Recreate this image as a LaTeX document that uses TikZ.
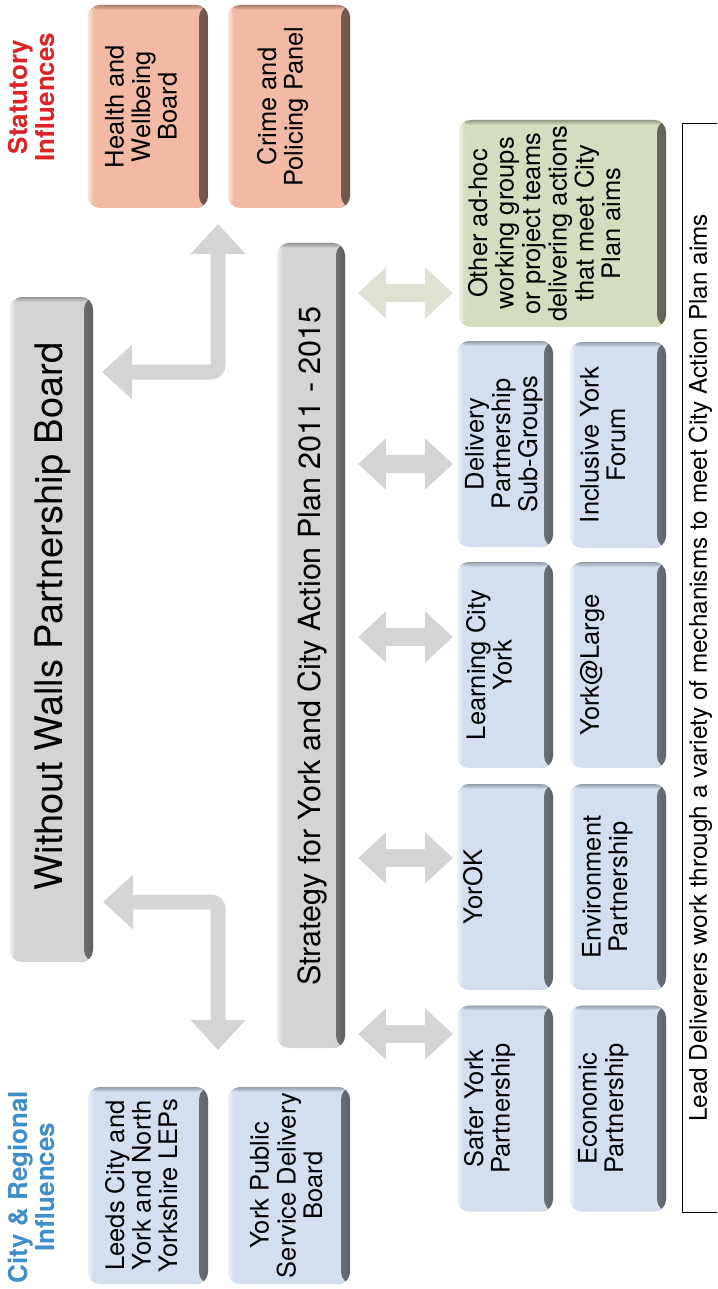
\documentclass[tikz,border=0pt]{standalone}
\usepackage{fontspec}
\setmainfont{TeX Gyre Heros}
\usepackage{graphicx}
\usetikzlibrary{arrows.meta,positioning}

\definecolor{boxblue}{RGB}{211,223,238}
\definecolor{boxred}{RGB}{242,185,165}
\definecolor{boxgreen}{RGB}{212,221,192}
\definecolor{boxgray}{RGB}{211,212,214}
\definecolor{arrgray}{RGB}{211,212,214}
\definecolor{arrgreen}{RGB}{223,226,211}
\definecolor{statred}{RGB}{220,35,40}
\definecolor{cityblue}{RGB}{63,141,201}

% text set sideways, lines centred
\newcommand{\vtext}[1]{\rotatebox{90}{\begin{tabular}{@{}c@{}}#1\end{tabular}}}

\begin{document}
\begin{tikzpicture}[
    x=1pt, y=-1pt,
    box/.style={rectangle, rounded corners=12pt, fill=#1, inner sep=0pt,
                path picture={
                  \shade[left color=#1, right color=#1!45!black]
                    ([xshift=-9pt]path picture bounding box.north east)
                    rectangle (path picture bounding box.south east);
                  \shade[top color=#1!70!black, bottom color=#1]
                    (path picture bounding box.north west)
                    rectangle ([yshift=-5pt]path picture bounding box.north east);
                  \shade[left color=#1!40!white, right color=#1]
                    (path picture bounding box.north west)
                    rectangle ([xshift=6pt]path picture bounding box.south west);}},
    lbox/.style={box=boxblue, minimum width=96pt, minimum height=206pt},
    txt/.style={inner sep=0pt, font=\fontsize{25.5}{26.5}\selectfont},
    head/.style={inner sep=0pt, font=\fontsize{26}{26}\selectfont\bfseries},
    leadbox/.style={draw=black, line width=1.5pt, inner sep=0pt,
                    minimum width=38pt, minimum height=1089pt,
                    font=\fontsize{24.3}{27}\selectfont},
    blkarr/.style={draw=arrgray, line width=15pt, rounded corners=7pt,
                   {Triangle[width=55pt,length=30pt,line width=0pt]}-{Triangle[width=55pt,length=30pt,line width=0pt]}},
    dblarr/.style={draw=arrgray, line width=18pt,
                   {Triangle[width=52pt,length=28pt,line width=0pt]}-{Triangle[width=52pt,length=28pt,line width=0pt]}},
]
\useasboundingbox (0,0) rectangle (717,1289);
\clip (0,0) rectangle (717,1289);

%% -- influences headings ------------------------------------------------------
\node[head, text=statred]   (stathd) at (35,97)   {\vtext{Statutory\\Influences}};
\node[head, text=cityblue]  (cityhd) at (35,1187) {\vtext{City \& Regional\\Influences}};

%% -- statutory boxes (top) -----------------------------------------------------
\node[box=boxred, minimum width=120pt, minimum height=203pt] (hwb) at (148,106.5) {};
\node[box=boxred, minimum width=122pt, minimum height=203pt] (cpp) at (289,106.5) {};
\node[txt, right=17pt of hwb.west] (hwbtx) {\vtext{Health and\\Wellbeing\\Board}};
\node[txt, right=29pt of cpp.west] (cpptx) {\vtext{Crime and\\Policing Panel}};

%% -- city & regional boxes (bottom) ------------------------------------------
\node[box=boxblue, minimum width=120pt, minimum height=197pt] (leeds) at (148,1185.5) {};
\node[box=boxblue, minimum width=122pt, minimum height=197pt] (ypsdb) at (289,1185.5) {};
\node[txt, right=17pt of leeds.west] (leedstx) {\vtext{Leeds City and\\York and North\\Yorkshire LEPs}};
\node[txt, right=22pt of ypsdb.west] (ypsdbtx) {\vtext{York Public\\Service Delivery\\Board}};

%% -- board and strategy ----------------------------------------------------------
\node[box=boxgray, minimum width=83pt, minimum height=665pt] (wwb)   at (51.5,629.5) {};
\node[box=boxgray, minimum width=68pt, minimum height=805pt] (strat) at (311,645.5) {};
\node[inner sep=0pt, font=\fontsize{38}{42}\selectfont] (wwbtx) at (53.6,616.5)
      {\vtext{Without Walls Partnership Board}};
\node[inner sep=0pt, font=\fontsize{30.5}{33}\selectfont] (strattx) at (313.4,646)
      {\vtext{Strategy for York and City Action Plan 2011 - 2015}};

%% -- lead deliverers -------------------------------------------------------------
\node[box=boxgreen, minimum width=207pt, minimum height=207pt] (other) at (562.5,223.5) {};
\node[lbox] (dps)  at (505,444)    {};
\node[lbox] (iyf)  at (618,445)    {};
\node[lbox] (lcy)  at (505,665)    {};
\node[lbox] (yal)  at (618,665)    {};
\node[lbox] (yok)  at (505,887)    {};
\node[lbox] (envp) at (618,887)    {};
\node[lbox] (syp)  at (505,1108.5) {};
\node[lbox] (ecp)  at (618,1108.5) {};

\node[txt, right=9pt of other.west] (othertx)
      {\vtext{Other ad-hoc\\working groups\\or project teams\\delivering actions\\that meet City\\Plan aims}};
\node[txt, right=8pt of dps.west]   (dpstx)  {\vtext{Delivery\\Partnership\\Sub-Groups}};
\node[txt, right=10pt of iyf.west]  (iyftx)  {\vtext{Inclusive York\\Forum}};
\node[txt, right=9pt of lcy.west]   (lcytx)  {\vtext{Learning City\\York}};
\node[txt, right=10pt of yal.west]  (yaltx)  {\vtext{York@Large}};
\node[txt, right=6pt of yok.west]   (yoktx)  {\vtext{YorOK}};
\node[txt, right=12pt of envp.west] (envptx) {\vtext{Environment\\Partnership}};
\node[txt, right=7pt of syp.west]   (syptx)  {\vtext{Safer York\\Partnership}};
\node[txt, right=8pt of ecp.west]   (ecptx)  {\vtext{Economic\\Partnership}};

\node[leadbox] (lead) at (701.5,668)
      {\vtext{Lead Deliverers work through a variety of mechanisms to meet City Action Plan aims}};

%% -- arrows ----------------------------------------------------------------------
\coordinate (topbend) at (218,372);
\coordinate (stattop) at (218,208);
\coordinate (botbend) at (218,902);
\coordinate (citytop) at (218,1087);
\draw[blkarr, shorten <=9pt, shorten >=16pt] (wwb.east |- topbend) -| (stattop);
\draw[blkarr, shorten <=10pt, shorten >=37pt] (wwb.east |- botbend) -| (citytop);

\coordinate (a-other) at (0,293);
\draw[dblarr, draw=arrgreen, shorten <=13pt, shorten >=6pt] (strat.east |- a-other) -- (other.west |- a-other);
\foreach \bx/\yy in {dps/464, lcy/637, yok/858, syp/1034} {
  \coordinate (a-\bx) at (0,\yy);
  \draw[dblarr, shorten <=13pt, shorten >=4pt] (strat.east |- a-\bx) -- (\bx.west |- a-\bx);
}

\end{tikzpicture}
\end{document}
